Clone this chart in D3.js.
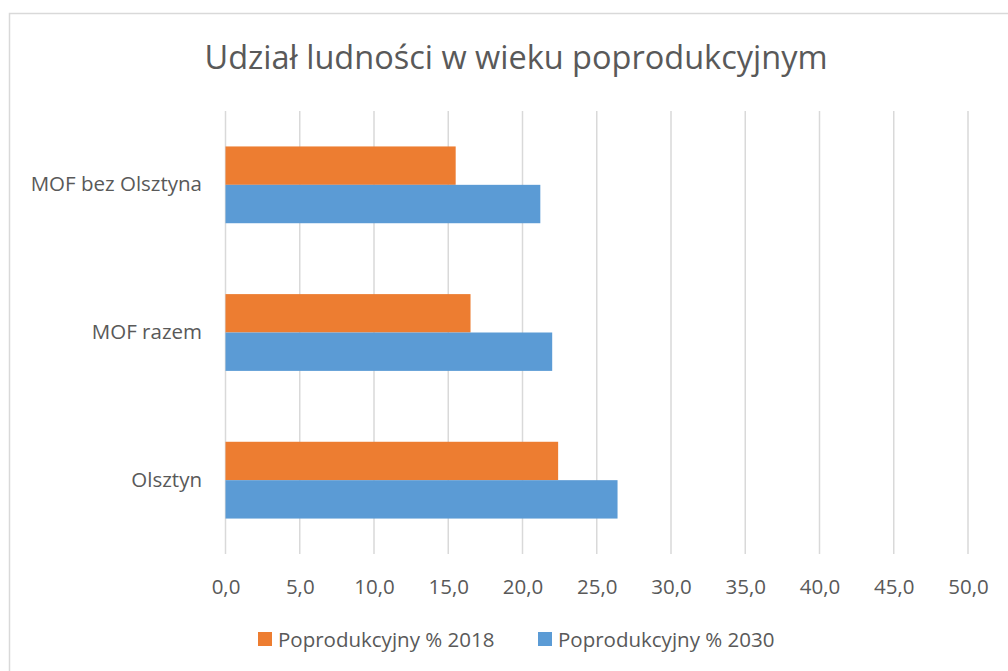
<!DOCTYPE html>
<html>
<head>
<meta charset="utf-8">
<script src="https://cdn.jsdelivr.net/npm/d3@7"></script>
<style>
  body { margin: 0; background: #fff; }
  svg { display: block; font-family: "Open Sans", sans-serif; }
</style>
</head>
<body>
<svg id="svg1" width="1008" height="671"></svg>
<script>
// dane
var categories = ['MOF bez Olsztyna', 'MOF razem', 'Olsztyn'];
var series = ['Poprodukcyjny % 2018', 'Poprodukcyjny % 2030'];
var values2018 = [15.5, 16.5, 22.4];
var values2030 = [21.2, 22.0, 26.4];
var ticks = [0, 5, 10, 15, 20, 25, 30, 35, 40, 45, 50];
var colors = ['#ED7D31', '#5B9BD5'];

var svg = d3.select('#svg1');
var textColor = '#595959';

// ramka wykresu
svg.append('rect')
    .attr('x', 9.5).attr('y', 13.5)
    .attr('width', 1010).attr('height', 670)
    .attr('fill', 'none')
    .attr('stroke', '#D9D9D9')
    .attr('stroke-width', 1.5);

var x = d3.scaleLinear().domain([0, 50]).range([225.5, 968]);

var y = d3.scaleBand()
    .domain(categories)
    .range([111, 554])
    .paddingInner(0.48)
    .paddingOuter(0.24);

var ySub = d3.scaleBand()
    .domain(series)
    .range([0, y.bandwidth()]);

// tytuł
svg.append('text')
    .attr('x', 516).attr('y', 69)
    .attr('text-anchor', 'middle')
    .attr('fill', textColor)
    .style('font-size', '32.5px')
    .text('Udział ludności w wieku poprodukcyjnym');

// linie siatki
svg.append('g')
    .selectAll('line')
    .data(ticks)
    .enter().append('line')
    .attr('x1', function(d) { return x(d); })
    .attr('x2', function(d) { return x(d); })
    .attr('y1', 111).attr('y2', 554)
    .attr('stroke', '#D9D9D9')
    .attr('stroke-width', 1.5);

// słupki
var rows = categories.map(function(c, i) {
    return { cat: c, vals: [values2018[i], values2030[i]] };
});

var group = svg.append('g')
    .selectAll('g')
    .data(rows)
    .enter().append('g')
    .attr('transform', function(d) { return 'translate(0,' + y(d.cat) + ')'; });

group.selectAll('rect')
    .data(function(d) { return d.vals.map(function(v, j) { return { s: series[j], v: v, j: j }; }); })
    .enter().append('rect')
    .attr('x', x(0))
    .attr('y', function(d) { return ySub(d.s); })
    .attr('width', function(d) { return x(d.v) - x(0); })
    .attr('height', ySub.bandwidth())
    .attr('fill', function(d) { return colors[d.j]; });

// oś X - etykiety
var fmt = function(d) { return d3.format('.1f')(d).replace('.', ','); };
var xAxis = svg.append('g')
    .attr('transform', 'translate(0,554)')
    .call(d3.axisBottom(x).tickValues(ticks).tickFormat(fmt).tickSize(0).tickPadding(25));
xAxis.select('.domain').remove();
xAxis.selectAll('text')
    .attr('fill', textColor)
    .style('font-family', '"Open Sans", sans-serif')
    .style('font-size', '20.5px');

// oś Y - kategorie
var yAxis = svg.append('g')
    .attr('transform', 'translate(202,0)')
    .call(d3.axisLeft(y).tickSize(0).tickPadding(0));
yAxis.select('.domain').remove();
yAxis.selectAll('text')
    .attr('fill', textColor)
    .style('font-family', '"Open Sans", sans-serif')
    .style('font-size', '20.5px');

// legenda
var legendX = [258, 538];
var legend = svg.append('g')
    .selectAll('g')
    .data(series)
    .enter().append('g')
    .attr('transform', function(d, i) { return 'translate(' + legendX[i] + ',632)'; });

legend.append('rect')
    .attr('width', 14).attr('height', 14)
    .attr('fill', function(d, i) { return colors[i]; });

legend.append('text')
    .attr('x', 20).attr('y', 14.5)
    .attr('fill', textColor)
    .style('font-size', '20.5px')
    .text(function(d) { return d; });
</script>
</body>
</html>
